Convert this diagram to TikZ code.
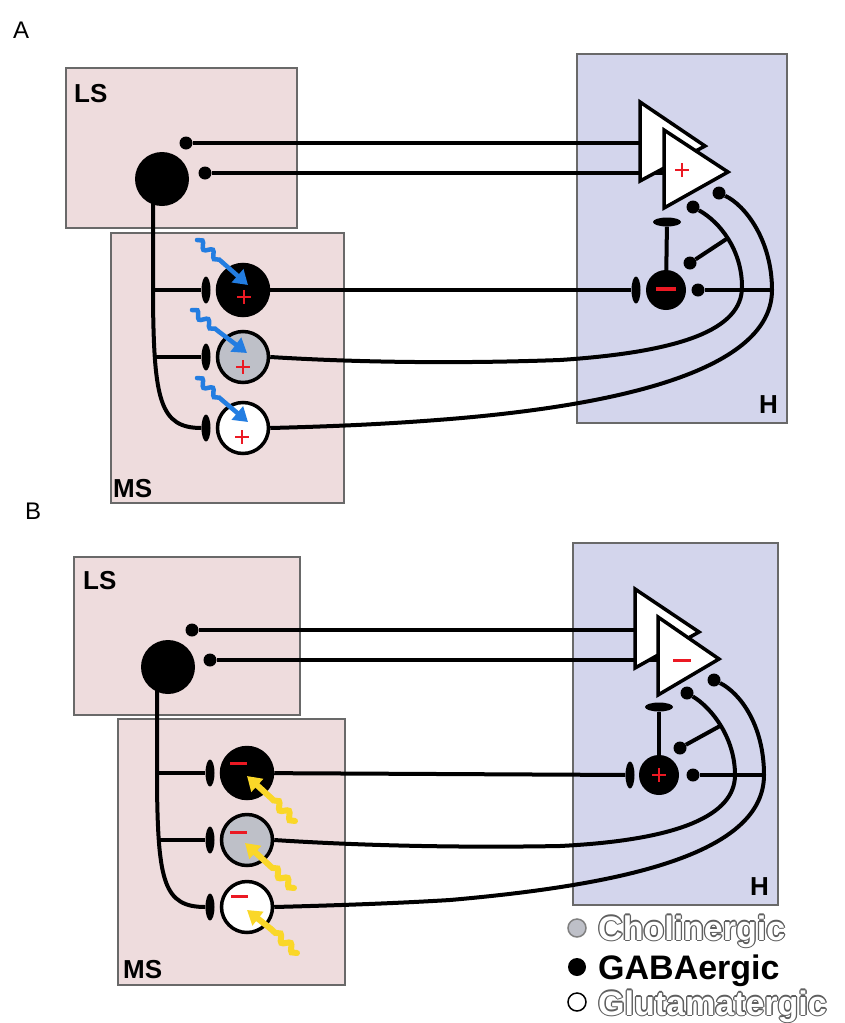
\documentclass[tikz,border=0pt]{standalone}
\usepackage{fontspec}
\setmainfont{Liberation Sans}
\usetikzlibrary{shapes.geometric,arrows.meta,decorations.pathmorphing}
\pgfdeclarelayer{boxes}
\pgfdeclarelayer{wires}
\pgfsetlayers{boxes,wires,main}
\definecolor{pinkbox}{RGB}{238,220,221}
\definecolor{bluebox}{RGB}{211,213,236}
\definecolor{boxedge}{RGB}{105,105,105}
\definecolor{greyn}{RGB}{190,192,200}
\definecolor{abl}{RGB}{35,125,225}
\definecolor{ayl}{RGB}{250,215,40}
\definecolor{sred}{RGB}{235,25,35}
\definecolor{olc}{RGB}{95,95,95}
\newcommand\outltext[1]{\leavevmode
 \rlap{\textcolor{olc}{\kern-1.3pt#1}}%
 \rlap{\textcolor{olc}{\kern1.3pt#1}}%
 \rlap{\textcolor{olc}{\raisebox{1.3pt}{#1}}}%
 \rlap{\textcolor{olc}{\raisebox{-1.3pt}{#1}}}%
 \rlap{\textcolor{olc}{\kern-0.9pt\raisebox{0.9pt}{#1}}}%
 \rlap{\textcolor{olc}{\kern0.9pt\raisebox{0.9pt}{#1}}}%
 \rlap{\textcolor{olc}{\kern-0.9pt\raisebox{-0.9pt}{#1}}}%
 \rlap{\textcolor{olc}{\kern0.9pt\raisebox{-0.9pt}{#1}}}%
 \textcolor{white}{#1}}
\begin{document}
\begin{tikzpicture}[x=1pt,y=-1pt,
  pinkregion/.style={fill=pinkbox,draw=boxedge,line width=1.5pt},
  blueregion/.style={fill=bluebox,draw=boxedge,line width=1.5pt},
  regionlabel/.style={anchor=base west,inner sep=0,font=\fontsize{26}{26}\selectfont\bfseries},
  panellabel/.style={anchor=base west,inner sep=0,font=\fontsize{24}{24}\selectfont},
  soma/.style={circle,fill=black,minimum size=54pt,inner sep=0},
  neuron/.style={circle,draw=black,line width=3.5pt,minimum size=51pt,inner sep=0},
  inter/.style={circle,fill=black,minimum size=40pt,inner sep=0},
  bouton/.style={circle,fill=black,minimum size=13pt,inner sep=0},
  vsyn/.style={ellipse,fill=black,minimum width=9pt,minimum height=27pt,inner sep=0},
  hsyn/.style={ellipse,fill=black,minimum width=28pt,minimum height=9pt,inner sep=0},
  axon/.style={line width=4pt,draw=black},
  cellbody/.style={fill=white,draw=black,line width=3.5pt,line join=miter},
  sgn/.style={draw=sred,line width=2.8pt},
  wave/.style={line width=#1,line cap=round,decorate,decoration={snake,amplitude=3.2pt,segment length=14pt}},
  shaft/.style={line width=#1,-{Triangle[length=14pt,width=17pt]}},
  legdot/.style={circle,minimum size=18pt,inner sep=0,line width=1.5pt},
  legtext/.style={anchor=base west,inner sep=0,font=\fontsize{34}{34}\selectfont\bfseries}]
\useasboundingbox (0,0) rectangle (844,1023);

% ---------------- regions ----------------
\begin{pgfonlayer}{boxes}
\fill[white] (0,0) rectangle (844,1023);
\draw[pinkregion] (66,68) rectangle (297,228);
\draw[pinkregion] (111,233) rectangle (344,503);
\draw[blueregion] (577,54) rectangle (787,423);
\draw[pinkregion] (74,557) rectangle (300,715);
\draw[pinkregion] (118,719) rectangle (345,985);
\draw[blueregion] (573,543) rectangle (778,905);
\end{pgfonlayer}

\node[panellabel] (labA) at (13,38) {A};
\node[panellabel] (labB) at (25,519) {B};
\node[regionlabel] (lsA) at (74,102) {LS};
\node[regionlabel] (msA) at (113,497) {MS};
\node[regionlabel] (hA) at (759,413) {H};
\node[regionlabel] (lsB) at (83,589) {LS};
\node[regionlabel] (msB) at (123,978) {MS};
\node[regionlabel] (hB) at (750,895) {H};

% ---------------- panel A ----------------
\node[soma] (LSa) at (162,179) {};
\node[bouton] (da1) at (186,143) {};
\node[bouton] (da2) at (205,173) {};
\node[neuron,fill=black] (na1) at (243,290) {};
\node[neuron,fill=greyn] (na2) at (243,357) {};
\node[neuron,fill=white] (na3) at (243,428) {};
\node[vsyn] (ea1) at (206,290) {};
\node[vsyn] (ea2) at (206,357) {};
\node[vsyn] (ea3) at (206,428) {};
\node[inter] (ia) at (666,290) {};
\node[vsyn] (eva) at (636,290) {};
\node[hsyn] (eha) at (667,222) {};
\node[bouton] (ta1) at (693,207) {};
\node[bouton] (ta2) at (719,193) {};
\node[bouton] (ba) at (690,263) {};
\node[bouton] (ra) at (698,290) {};

\coordinate (tbA) at (640,143);
\coordinate (tfA) at (664,173);
\coordinate (tka) at (153,195);
\coordinate (k1a) at (153,290);
\coordinate (k2a) at (154,357);
\coordinate (gma) at (560,360);
\coordinate (gra) at (742,287);
\coordinate (ja) at (728,238);
\coordinate (wma) at (450,419);
\coordinate (wra) at (772,290);

\begin{pgfonlayer}{wires}
\draw[axon] (da1) -- (tbA);
\draw[axon] (da2) -- (tfA);
\draw[axon] (tka) -- (153,300) .. controls (154,400) and (160,428) .. (ea3);
\draw[axon] (k1a) -- (ea1);
\draw[axon] (k2a) -- (ea2);
\draw[axon] (na1) -- (eva);
\draw[axon] (na2.east) .. controls (350,362) and (450,364) .. (gma)
   .. controls (680,352) and (742,330) .. (gra)
   .. controls (742,250) and (720,222) .. (ta1);
\draw[axon] (na3.east) .. controls (350,426) and (400,423) .. (wma)
   .. controls (620,405) and (772,370) .. (wra)
   .. controls (772,240) and (745,205) .. (ta2);
\draw[axon] (ra) -- (wra);
\draw[axon] (ba) -- (ja);
\draw[axon] (eha) -- (ia);
\end{pgfonlayer}

\draw[cellbody] (640,102) -- (640,181) -- (705,146) -- cycle;
\draw[cellbody] (664,130) -- (664,208) -- (728,172) -- cycle;

\draw[sgn] (675,170) -- (689,170) (682,163) -- (682,177);
\draw[sgn] (237,297) -- (251,297) (244,290) -- (244,304);
\draw[sgn] (236,367) -- (250,367) (243,360) -- (243,374);
\draw[sgn] (235,437) -- (249,437) (242,430) -- (242,444);
\draw[sgn,line width=4pt] (656,289) -- (676,289);

\coordinate (bs1) at (197,240); \coordinate (bm1) at (222,262); \coordinate (bt1) at (248,285);
\coordinate (bs2) at (192,310); \coordinate (bm2) at (218,331); \coordinate (bt2) at (247,353);
\coordinate (bs3) at (197,378); \coordinate (bm3) at (222,400); \coordinate (bt3) at (248,422);
\draw[wave=4.5pt,draw=abl] (bs1) -- (bm1);
\draw[shaft=4.5pt,draw=abl,fill=abl] (bm1) -- (bt1);
\draw[wave=4.5pt,draw=abl] (bs2) -- (bm2);
\draw[shaft=4.5pt,draw=abl,fill=abl] (bm2) -- (bt2);
\draw[wave=4.5pt,draw=abl] (bs3) -- (bm3);
\draw[shaft=4.5pt,draw=abl,fill=abl] (bm3) -- (bt3);

% ---------------- panel B ----------------
\node[soma] (LSb) at (168,667) {};
\node[bouton] (db1) at (192,630) {};
\node[bouton] (db2) at (210,660) {};
\node[neuron,fill=black] (nb1) at (247,773) {};
\node[neuron,fill=greyn] (nb2) at (247,840) {};
\node[neuron,fill=white] (nb3) at (247,907) {};
\node[vsyn] (eb1) at (210,773) {};
\node[vsyn] (eb2) at (210,840) {};
\node[vsyn] (eb3) at (210,907) {};
\node[inter] (ib) at (659,775) {};
\node[vsyn] (evb) at (630,775) {};
\node[hsyn] (ehb) at (659,707) {};
\node[bouton] (tb1) at (687,693) {};
\node[bouton] (tb2) at (714,680) {};
\node[bouton] (bb) at (680,748) {};
\node[bouton] (rb) at (693,775) {};

\coordinate (tbB) at (635,630);
\coordinate (tfB) at (658,660);
\coordinate (tkb) at (157,683);
\coordinate (k1b) at (157,773);
\coordinate (k2b) at (158,840);
\coordinate (gmb) at (560,846);
\coordinate (grb) at (735,775);
\coordinate (jb) at (720,726);
\coordinate (wmb) at (450,900);
\coordinate (wrb) at (764,775);

\begin{pgfonlayer}{wires}
\draw[axon] (db1) -- (tbB);
\draw[axon] (db2) -- (tfB);
\draw[axon] (tkb) -- (157,785) .. controls (158,882) and (164,907) .. (eb3);
\draw[axon] (k1b) -- (eb1);
\draw[axon] (k2b) -- (eb2);
\draw[axon] (nb1) -- (evb);
\draw[axon] (nb2.east) .. controls (350,845) and (450,848) .. (gmb)
   .. controls (680,840) and (735,815) .. (grb)
   .. controls (735,738) and (712,708) .. (tb1);
\draw[axon] (nb3.east) .. controls (350,905) and (400,903) .. (wmb)
   .. controls (620,885) and (764,855) .. (wrb)
   .. controls (764,725) and (740,693) .. (tb2);
\draw[axon] (rb) -- (wrb);
\draw[axon] (bb) -- (jb);
\draw[axon] (ehb) -- (ib);
\end{pgfonlayer}

\draw[cellbody] (635,589) -- (635,668) -- (699,632) -- cycle;
\draw[cellbody] (658,617) -- (658,695) -- (719,659) -- cycle;

\draw[sgn,line width=3pt] (673,660) -- (691,660);
\draw[sgn,line width=3pt] (230,763) -- (247,763);
\draw[sgn,line width=3pt] (230,832) -- (247,832);
\draw[sgn,line width=3pt] (231,896) -- (248,896);
\draw[sgn] (652,775) -- (666,775) (659,768) -- (659,782);

\coordinate (ys1) at (295,821); \coordinate (ym1) at (270,797); \coordinate (yt1) at (247,776);
\coordinate (ys2) at (294,888); \coordinate (ym2) at (268,864); \coordinate (yt2) at (245,843);
\coordinate (ys3) at (297,953); \coordinate (ym3) at (271,929); \coordinate (yt3) at (247,910);
\draw[wave=6pt,draw=ayl] (ys1) -- (ym1);
\draw[shaft=6pt,draw=ayl,fill=ayl] (ym1) -- (yt1);
\draw[wave=6pt,draw=ayl] (ys2) -- (ym2);
\draw[shaft=6pt,draw=ayl,fill=ayl] (ym2) -- (yt2);
\draw[wave=6pt,draw=ayl] (ys3) -- (ym3);
\draw[shaft=6pt,draw=ayl,fill=ayl] (ym3) -- (yt3);

% ---------------- legend ----------------
\node[legdot,fill=greyn,draw=gray] (lg1) at (577,928) {};
\node[legdot,fill=black] (lg2) at (577,967) {};
\node[legdot,fill=white,draw=black] (lg3) at (577,1002) {};
\node[legtext] (lt1) at (598,940) {\outltext{Cholinergic}};
\node[legtext] (lt2) at (598,979) {GABAergic};
\node[legtext] (lt3) at (598,1015) {\outltext{Glutamatergic}};
\end{tikzpicture}
\end{document}
